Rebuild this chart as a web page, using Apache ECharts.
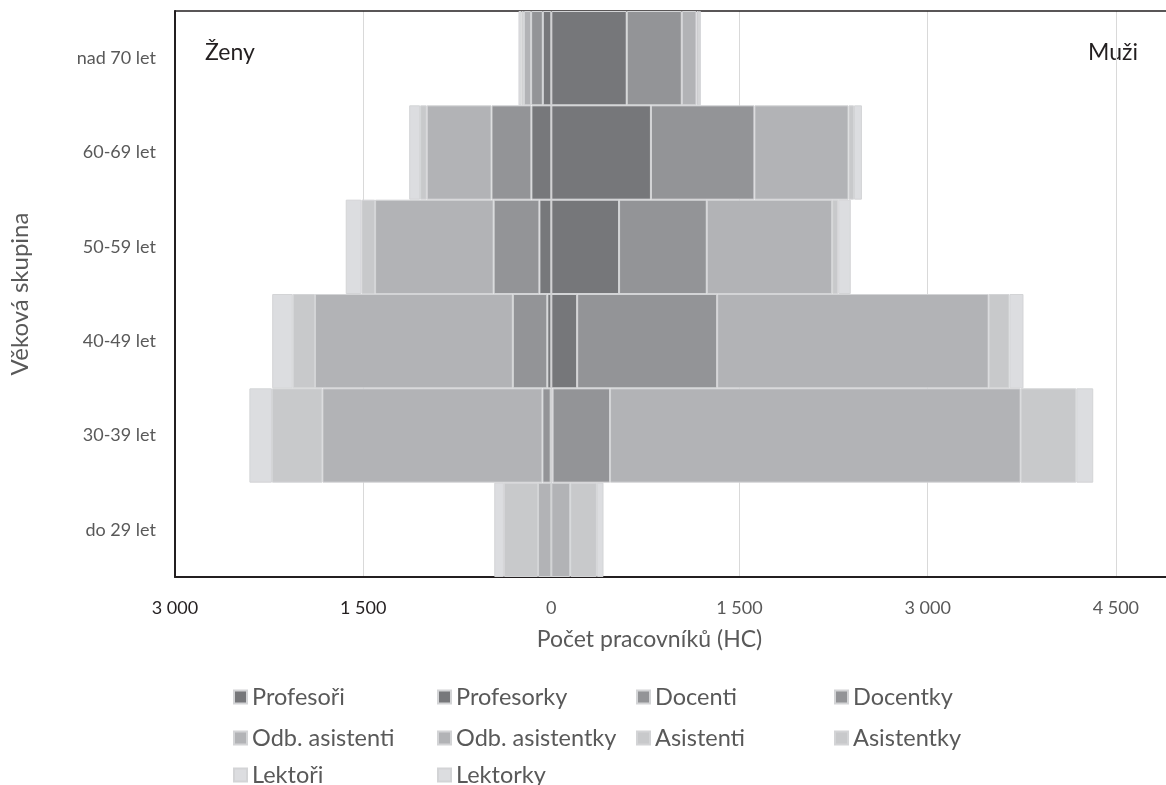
<!DOCTYPE html>
<html>
<head>
<meta charset="utf-8">
<script src="https://cdn.jsdelivr.net/npm/echarts@6/dist/echarts.min.js"></script>
<style>
html,body{margin:0;padding:0;background:#fff;}
#chart{width:1166px;height:785px;}
</style>
</head>
<body>
<div id="chart"></div>
<script>
// ---- data ----
const categories = ['do 29 let', '30-39 let', '40-49 let', '50-59 let', '60-69 let', 'nad 70 let'];
const xTicks = [-3000, -1500, 0, 1500, 3000, 4500];

// men (right side)
const profesori     = [0,   10,  206,  540, 794, 601];
const docenti       = [0,  458, 1116,  699, 825, 439];
const odbAsistenti  = [151, 3273, 2164, 1000, 750, 117];
const asistenti     = [212, 444,  166,   48,  44,  20];
const lektori       = [53,  135,  112,  100,  63,  15];

// women (left side, counts)
const profesorky    = [0,    5,   32,   95, 159,  68];
const docentky      = [0,   66,  275,  365, 318,  93];
const odbAsistentky = [106, 1754, 1577, 945, 516,  58];
const asistentky    = [272, 402,  177,  109,  53,  18];
const lektorky      = [77,  180,  164,  125,  87,  25];

const seriesNames = ['Profesoři', 'Profesorky', 'Docenti', 'Docentky', 'Odb. asistenti',
  'Odb. asistentky', 'Asistenti', 'Asistentky', 'Lektoři', 'Lektorky'];
const seriesData = [profesori, profesorky, docenti, docentky, odbAsistenti,
  odbAsistentky, asistenti, asistentky, lektori, lektorky];
const seriesWomen = [false, true, false, true, false, true, false, true, false, true];
const seriesColors = ['#76777a', '#77787b', '#939497', '#939497', '#b2b3b6',
  '#b2b3b6', '#c8c9cb', '#c8c9cb', '#dcdde0', '#dcdde0'];

const FONT = 'Lato';
const fmt = v => {
  const a = Math.abs(v);
  return String(a).replace(/\B(?=(\d{3})+(?!\d))/g, ' ');
};

const series = seriesNames.map((name, i) => ({
  name: name,
  type: 'bar',
  stack: seriesWomen[i] ? 'zeny' : 'muzi',
  barCategoryGap: '0%',
  barGap: '-100%',
  itemStyle: { color: seriesColors[i], borderColor: '#d3d4d6', borderWidth: 1 },
  emphasis: { disabled: true },
  data: seriesData[i].map(v => seriesWomen[i] ? -v : v)
}));

// legend grid: 4 columns, items in series order row by row
const legendColLefts = [233, 437, 636, 834];
const legendRowCenters = [697, 738, 775];
const legends = seriesNames.map((name, i) => ({
  data: [name],
  left: legendColLefts[i % 4],
  top: legendRowCenters[Math.floor(i / 4)] - 12,
  padding: 0,
  itemWidth: 13,
  itemHeight: 13,
  icon: 'rect',
  selectedMode: false,
  textStyle: { fontSize: 23.5, color: '#595959', fontFamily: FONT, lineHeight: 24 }
}));

const chart = echarts.init(document.getElementById('chart'), null, { renderer: 'canvas' });
chart.setOption({
  animation: false,
  backgroundColor: '#ffffff',
  textStyle: { fontFamily: FONT },
  grid: { left: 172, top: 11, width: 995.4, height: 566, containLabel: false },
  xAxis: [{
    type: 'value',
    min: -3000, max: 4900, interval: 1500,
    position: 'bottom',
    axisLine: { show: true, onZero: false, lineStyle: { color: '#231f20', width: 2 } },
    axisTick: { show: false },
    splitLine: { show: true, lineStyle: { color: '#d9d9d9', width: 1 } },
    axisLabel: {
      showMaxLabel: false,
      margin: 22,
      fontSize: 18,
      fontFamily: FONT,
      color: v => (v < 0 ? '#231f20' : '#595959'),
      formatter: fmt
    },
    name: 'Počet pracovníků (HC)',
    nameLocation: 'middle',
    nameGap: 51,
    nameTextStyle: { fontSize: 23, color: '#595959', fontFamily: FONT, padding: [0, 42, 0, 0] }
  }, {
    type: 'value',
    min: -3000, max: 4900, interval: 1500,
    position: 'top',
    axisLine: { show: true, onZero: false, lineStyle: { color: '#231f20', width: 1.5 } },
    axisTick: { show: false },
    axisLabel: { show: false },
    splitLine: { show: false }
  }],
  yAxis: {
    type: 'category',
    data: categories,
    axisLine: { show: true, onZero: false, lineStyle: { color: '#231f20', width: 2 } },
    axisTick: { show: false },
    axisLabel: { margin: 19, fontSize: 18, color: '#595959', fontFamily: FONT },
    name: 'Věková skupina',
    nameLocation: 'middle',
    nameGap: 143,
    nameTextStyle: { fontSize: 24, color: '#595959', fontFamily: FONT }
  },
  legend: legends,
  graphic: [
    { type: 'text', left: 205, top: 41, style: { text: 'Ženy', font: '23px Lato', fill: '#231f20' } },
    { type: 'text', right: 28, top: 41, style: { text: 'Muži', font: '23px Lato', fill: '#231f20' } }
  ],
  series: series
});
</script>
</body>
</html>
